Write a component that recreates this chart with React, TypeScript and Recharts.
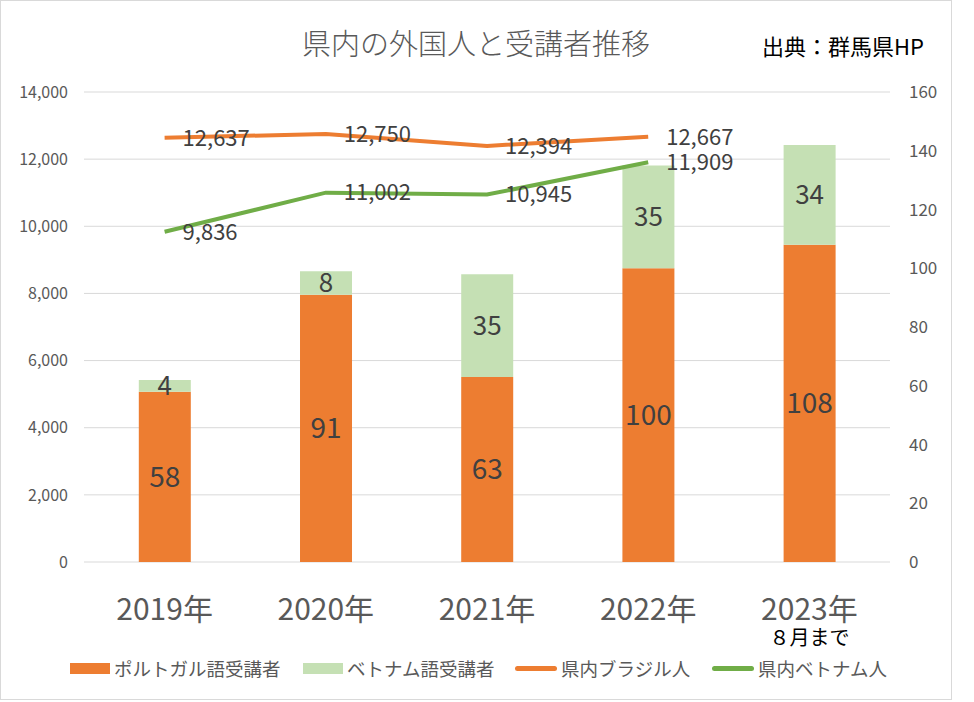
import { Bar, CartesianGrid, ComposedChart, LabelList, Line, XAxis, YAxis } from 'recharts';

const categories = ['2019年', '2020年', '2021年', '2022年', '2023年'];
const portugueseStudents = [58, 91, 63, 100, 108];
const vietnameseStudents = [4, 8, 35, 35, 34];
const brazilResidents = [12637, 12750, 12394, 12667, null];
const vietnamResidents = [9836, 11002, 10945, 11909, null];
const leftTicks = [0, 2000, 4000, 6000, 8000, 10000, 12000, 14000];
const rightTicks = [0, 20, 40, 60, 80, 100, 120, 140, 160];

const data = categories.map((year, i) => ({
  year,
  pt: portugueseStudents[i],
  vn: vietnameseStudents[i],
  br: brazilResidents[i],
  vr: vietnamResidents[i],
}));

const FONT = '"Noto Sans CJK JP", "Noto Sans", sans-serif';
const ORANGE = '#ED7D31';
const LIGHT_GREEN = '#C5E0B4';
const GREEN = '#70AD47';
const AXIS_GREY = '#595959';
const LABEL_DARK = '#404040';

const fmt = (v: any) => (v == null ? '' : Number(v).toLocaleString('en-US'));

const YearTick = (props: any) => {
  const { x, y, payload } = props;
  return (
    <g>
      <text x={x} y={y + 58} textAnchor="middle" fill={AXIS_GREY} fontSize={30} fontFamily={FONT}>
        {payload.value}
      </text>
      {payload.value === '2023年' && (
        <text x={x} y={y + 83} textAnchor="middle" fill="#000" fontSize={20} fontFamily={FONT}>
          ８月まで
        </text>
      )}
    </g>
  );
};

const legendItems = [
  { label: 'ポルトガル語受講者', color: ORANGE, kind: 'box', x: 70 },
  { label: 'ベトナム語受講者', color: LIGHT_GREEN, kind: 'box', x: 303 },
  { label: '県内ブラジル人', color: ORANGE, kind: 'line', x: 515 },
  { label: '県内ベトナム人', color: GREEN, kind: 'line', x: 712 },
];

export default function App() {
  return (
    <div style={{ position: 'fixed', left: 0, top: 0, width: 974, height: 702, background: '#fff', fontFamily: FONT }}>
      <div
        style={{
          position: 'absolute',
          left: 0,
          top: 0,
          width: 950,
          height: 698,
          border: '1px solid #D9D9D9',
        }}
      />
      <div style={{ position: 'absolute', left: 0, top: 21, width: 952, textAlign: 'center', fontSize: 29, color: AXIS_GREY, fontWeight: 300 }}>
        県内の外国人と受講者推移
      </div>
      <div style={{ position: 'absolute', left: 762, top: 29, fontSize: 22, color: '#000' }}>出典：群馬県HP</div>

      <ComposedChart
        width={952}
        height={700}
        data={data}
        margin={{ top: 92, right: 2, left: 24, bottom: 78 }}
        barCategoryGap="34%"
        style={{ position: 'absolute', left: 0, top: 0 }}
      >
        <CartesianGrid yAxisId="left" vertical={false} stroke="#D9D9D9" strokeWidth={1} />
        <XAxis dataKey="year" axisLine={false} tickLine={false} tickSize={0} tickMargin={0} height={60} tick={<YearTick />} interval={0} />
        <YAxis
          yAxisId="left"
          domain={[0, 14000]}
          ticks={leftTicks}
          width={60}
          axisLine={false}
          tickLine={false}
          tickMargin={10}
          tickFormatter={fmt}
          tick={{ fill: AXIS_GREY, fontSize: 16, fontFamily: FONT }}
        />
        <YAxis
          yAxisId="right"
          orientation="right"
          domain={[0, 160]}
          ticks={rightTicks}
          width={60}
          axisLine={false}
          tickLine={false}
          tickMargin={13}
          tick={{ fill: AXIS_GREY, fontSize: 17, fontFamily: FONT }}
        />
        <Bar yAxisId="right" dataKey="pt" stackId="s" fill={ORANGE} isAnimationActive={false}>
          <LabelList dataKey="pt" position="center" fill={LABEL_DARK} fontSize={28} fontFamily={FONT} />
        </Bar>
        <Bar yAxisId="right" dataKey="vn" stackId="s" fill={LIGHT_GREEN} isAnimationActive={false}>
          <LabelList dataKey="vn" position="center" fill={LABEL_DARK} fontSize={26} fontFamily={FONT} />
        </Bar>
        <Line yAxisId="left" dataKey="br" stroke={ORANGE} strokeWidth={4} dot={false} isAnimationActive={false}>
          <LabelList dataKey="br" position="right" offset={18} formatter={fmt} fill={LABEL_DARK} fontSize={22} fontFamily={FONT} />
        </Line>
        <Line yAxisId="left" dataKey="vr" stroke={GREEN} strokeWidth={4} dot={false} isAnimationActive={false}>
          <LabelList dataKey="vr" position="right" offset={18} formatter={fmt} fill={LABEL_DARK} fontSize={22} fontFamily={FONT} />
        </Line>
      </ComposedChart>

      {legendItems.map((item) => (
        <div
          key={item.label}
          style={{ position: 'absolute', left: item.x, top: 656, height: 24, display: 'flex', alignItems: 'center', fontSize: 18.5, color: AXIS_GREY }}
        >
          {item.kind === 'box' ? (
            <span style={{ display: 'inline-block', width: 40, height: 11, background: item.color, marginRight: 4 }} />
          ) : (
            <span style={{ display: 'inline-block', width: 42, height: 5, borderRadius: 3, background: item.color, marginRight: 4 }} />
          )}
          <span>{item.label}</span>
        </div>
      ))}
    </div>
  );
}
